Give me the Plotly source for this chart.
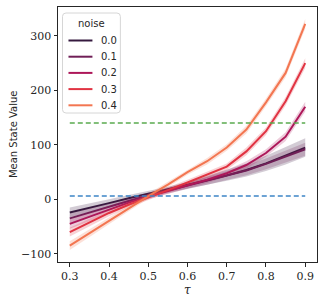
import plotly.graph_objects as go

tau = [0.3, 0.35, 0.4, 0.45, 0.5, 0.55, 0.6, 0.65, 0.7, 0.75, 0.8, 0.85, 0.9]
noise_labels = ["0.0", "0.1", "0.2", "0.3", "0.4"]
colors = ["#35193e", "#701f57", "#ad1759", "#e13342", "#f37651"]

mean_00 = [-24, -16, -7, 2, 10, 18, 26, 35, 44, 54, 66, 80, 95]
mean_01 = [-35, -24, -13, -3, 7, 16, 25, 34, 43, 53, 65, 78, 92]
mean_02 = [-45, -32, -18, -6, 5, 15, 25, 36, 48, 63, 85, 115, 170]
mean_03 = [-60, -42, -25, -10, 3, 17, 31, 45, 60, 88, 125, 180, 250]
mean_04 = [-85, -62, -40, -17, 6, 27, 50, 70, 95, 128, 178, 232, 322]

err_00 = [9, 8, 7, 6, 5, 5, 6, 8, 10, 12, 14, 16, 17]
err_01 = [9, 8, 7, 6, 5, 5, 6, 7, 8, 9, 10, 11, 12]
err_02 = [9, 8, 7, 6, 5, 5, 5, 6, 6, 7, 7, 8, 9]
err_03 = [8, 7, 6, 5, 5, 5, 5, 6, 6, 7, 7, 8, 9]
err_04 = [8, 7, 6, 5, 5, 5, 5, 6, 6, 7, 7, 8, 9]

ref_low = 6
ref_high = 140

means = [mean_00, mean_01, mean_02, mean_03, mean_04]
errs = [err_00, err_01, err_02, err_03, err_04]

def rgba(h, a):
    h = h.lstrip("#")
    return "rgba(%d,%d,%d,%s)" % (int(h[0:2], 16), int(h[2:4], 16), int(h[4:6], 16), a)

fig = go.Figure()
for lab, col, m, e in zip(noise_labels, colors, means, errs):
    up = [a + b for a, b in zip(m, e)]
    lo = [a - b for a, b in zip(m, e)]
    fig.add_trace(go.Scatter(
        x=tau + tau[::-1], y=up + lo[::-1], fill="toself",
        fillcolor=rgba(col, 0.22), line=dict(width=0), mode="lines",
        showlegend=False, hoverinfo="skip"))
    fig.add_trace(go.Scatter(
        x=tau, y=m, mode="lines", name=lab, showlegend=False,
        line=dict(color=col, width=2)))

fig.add_trace(go.Scatter(x=[tau[0], tau[-1]], y=[ref_high, ref_high], mode="lines",
                         line=dict(color="#5aab4f", width=1.6, dash="5px,3px"),
                         showlegend=False))
fig.add_trace(go.Scatter(x=[tau[0], tau[-1]], y=[ref_low, ref_low], mode="lines",
                         line=dict(color="#3d85c6", width=1.6, dash="5px,3px"),
                         showlegend=False))

serif = "DejaVu Serif"
sans = "DejaVu Sans"
ink = "#262626"

# plot-area geometry (px) used to place the hand-built legend box
W, H = 327, 304
ML, MR, MT, MB = 57.5, 10, 7, 42
PW, PH = W - ML - MR, H - MT - MB

def px(xp):
    return (xp - ML) / PW

def py(yp):
    return 1 - (yp - MT) / PH

# legend box (rounded)
x0, x1, y0, y1 = px(62), px(120), py(113), py(13)
rx, ry = 3.5 / PW, 3.5 / PH
path = (f"M {x0+rx},{y1} L {x1-rx},{y1} Q {x1},{y1} {x1},{y1-ry} "
        f"L {x1},{y0+ry} Q {x1},{y0} {x1-rx},{y0} L {x0+rx},{y0} "
        f"Q {x0},{y0} {x0},{y0+ry} L {x0},{y1-ry} Q {x0},{y1} {x0+rx},{y1} Z")
fig.add_shape(type="path", path=path, xref="paper", yref="paper", layer="above",
              fillcolor="rgba(255,255,255,0.8)", line=dict(color="#d6d6d6", width=1))
fig.add_annotation(x=px(91), y=py(24), xref="paper", yref="paper", text="noise",
                   showarrow=False, xanchor="center", yanchor="middle",
                   font=dict(family=sans, size=10, color=ink))
for i, (lab, col) in enumerate(zip(noise_labels, colors)):
    yy = py(40.5 + 16.2 * i)
    fig.add_shape(type="line", xref="paper", yref="paper", layer="above",
                  x0=px(68), x1=px(92), y0=yy, y1=yy, line=dict(color=col, width=2))
    fig.add_annotation(x=px(99), y=yy, xref="paper", yref="paper", text=lab,
                       showarrow=False, xanchor="left", yanchor="middle",
                       font=dict(family=sans, size=10, color=ink))

# axis titles
fig.add_annotation(x=0.5, y=py(290), xref="paper", yref="paper", text="<i>τ</i>",
                   showarrow=False, xanchor="center", yanchor="middle",
                   font=dict(family=serif, size=12, color=ink))
fig.add_annotation(x=px(12.5), y=py(134), xref="paper", yref="paper", text="Mean State Value",
                   showarrow=False, xanchor="center", yanchor="middle", textangle=-90,
                   font=dict(family=sans, size=10, color=ink))

axis_common = dict(showline=True, linecolor=ink, linewidth=1, mirror=True,
                   ticks="outside", ticklen=3.5, tickwidth=0.8, tickcolor=ink,
                   showgrid=False, zeroline=False,
                   tickfont=dict(family=serif, size=11, color=ink))

fig.update_layout(
    template="none",
    width=W, height=H,
    margin=dict(l=ML, r=MR, t=MT, b=MB, pad=0),
    font=dict(family=sans, size=10, color=ink),
    paper_bgcolor="white", plot_bgcolor="white",
    xaxis=dict(range=[0.27, 0.93], tickvals=[0.3, 0.4, 0.5, 0.6, 0.7, 0.8, 0.9],
               ticktext=["0.3", "0.4", "0.5", "0.6", "0.7", "0.8", "0.9"],
               **axis_common),
    yaxis=dict(range=[-115, 353], tickvals=[-100, 0, 100, 200, 300],
               ticktext=["−100", "0", "100", "200", "300"],
               **axis_common),
    showlegend=False,
)

fig.write_html("out.html", config={"displayModeBar": False},
               post_script="document.body.style.margin='0';document.body.style.padding='0';")
